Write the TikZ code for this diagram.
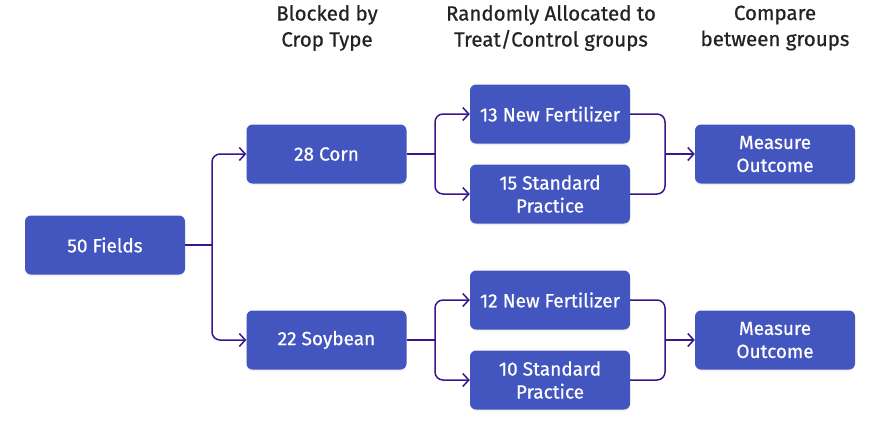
\documentclass[tikz,border=0pt]{standalone}
\usepackage{fontspec}
\setmainfont{Fira Sans}
\newfontfamily\medfont{Fira Sans}[FakeBold=0.7]
\usepackage{tikz}
\usetikzlibrary{arrows.meta,positioning,shadows}
\usepackage{xcolor}
\definecolor{exblue}{RGB}{67,85,190}
\definecolor{exline}{RGB}{58,22,140}
\definecolor{exgray}{RGB}{35,35,35}
\tikzstyle{arrow} = [line width=1.5pt,-{Straight Barb[length=6pt,width=13pt]},color=exline]
\tikzstyle{link} = [line width=1.5pt,color=exline]
\tikzstyle{unit} = [rectangle, rounded corners=6pt, minimum width=160pt, minimum height=59pt, text centered, fill=exblue, text=white, align=center, font=\medfont\fontsize{19}{23}\selectfont, drop shadow={opacity=0.12, shadow xshift=0pt, shadow yshift=-1.5pt}]

\begin{document}
\begin{tikzpicture}[x=1pt, y=-1pt,
    header/.style={align=center, text=exgray, font=\medfont\fontsize{20.5}{26}\selectfont}]
\useasboundingbox (0,0) rectangle (882,440);

% Column headers
\node[header] (hblock) at (327,28) {Blocked by\\Crop Type};
\node[header] (halloc) at (551,28) {Randomly Allocated to\\Treat/Control groups};
\node[header] (hcomp) at (775,28) {Compare\\between groups};

% Fields and blocks
\node[unit] (fields) at (105,245) {50 Fields};
\node[unit] (corn) at (326.5,154) {28 Corn};
\node[unit] (soy) at (326.5,340) {22 Soybean};

% Treatment groups
\node[unit] (cornnew) at (550,114) {13 New Fertilizer};
\node[unit] (cornstd) at (550,194) {15 Standard\\Practice};
\node[unit] (soynew) at (550,300) {12 New Fertilizer};
\node[unit] (soystd) at (550,380) {10 Standard\\Practice};

% Outcomes
\node[unit] (cornout) at (775,154) {Measure\\Outcome};
\node[unit] (soyout) at (775,340) {Measure\\Outcome};

% Branch points
\coordinate (fsplit) at (212,245);
\coordinate (csplit) at (435,154);
\coordinate (ssplit) at (435,340);
\coordinate (cjoin) at (665,154);
\coordinate (sjoin) at (665,340);

% Connections
\draw[link] (fields.east) -- (fsplit);
\draw[arrow, rounded corners=8pt] (fsplit) |- (corn.west);
\draw[arrow, rounded corners=8pt] (fsplit) |- (soy.west);

\draw[link] (corn.east) -- (csplit);
\draw[arrow, rounded corners=8pt] (csplit) |- (cornnew.west);
\draw[arrow, rounded corners=8pt] (csplit) |- (cornstd.west);
\draw[link] (soy.east) -- (ssplit);
\draw[arrow, rounded corners=8pt] (ssplit) |- (soynew.west);
\draw[arrow, rounded corners=8pt] (ssplit) |- (soystd.west);

\draw[link, rounded corners=8pt] (cornnew.east) -| (cjoin);
\draw[link, rounded corners=8pt] (cornstd.east) -| (cjoin);
\draw[arrow] (cjoin) -- (cornout.west);
\draw[link, rounded corners=8pt] (soynew.east) -| (sjoin);
\draw[link, rounded corners=8pt] (soystd.east) -| (sjoin);
\draw[arrow] (sjoin) -- (soyout.west);
\end{tikzpicture}
\end{document}
